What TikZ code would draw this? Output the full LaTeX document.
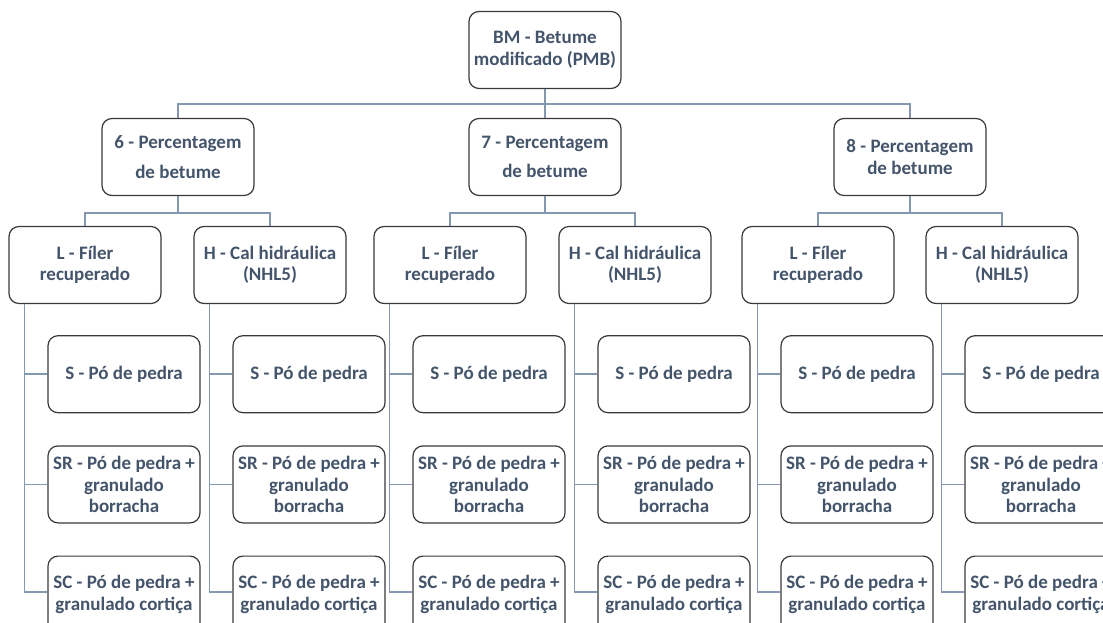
\documentclass[tikz,border=0pt]{standalone}
\usepackage{fontspec}
\setmainfont{Carlito}
\usetikzlibrary{positioning, calc}
\definecolor{textslate}{HTML}{44546A}
\definecolor{linkgrey}{HTML}{8497B0}
\definecolor{boxedge}{HTML}{3A3A3A}
\tikzset{
  box/.style={draw=boxedge, line width=1.2pt, rounded corners=10pt, fill=white,
    minimum width=152pt, minimum height=77pt, inner sep=0pt, align=center,
    text=textslate, font=\fontsize{19}{21.5}\selectfont\bfseries},
  link/.style={draw=linkgrey, line width=1.8pt},
}
\begin{document}
\begin{tikzpicture}[x=1pt, y=-1pt]
  \clip (0,0) rectangle (1103,623);
  \fill[white] (0,0) rectangle (1103,623);

  % Root
  \node[box] (bm) at (545,50) {BM - Betume\\modificado (PMB)};

  % Bitumen content
  \foreach \pc/\xx/\gap in {6/178/8pt, 7/545/8pt, 8/910/0pt} {
    \node[box] (p\pc) at (\xx,157) {\pc{} - Percentagem\\[\gap]de betume};
    \draw[link] (bm.south) -- ++(0,15) -| (p\pc.north);
  }

  % Filler type and mixes
  \foreach \pc/\xl/\xh in {6/85/270, 7/450/635, 8/818/1002} {
    \node[box] (l\pc) at (\xl,265) {L - Fíler\\recuperado};
    \node[box] (h\pc) at (\xh,265) {H - Cal hidráulica\\(NHL5)};
    \draw[link] (p\pc.south) -- ++(0,17) -| (l\pc.north);
    \draw[link] (p\pc.south) -- ++(0,17) -| (h\pc.north);

    \foreach \fl in {l, h} {
      \node[box, below=31pt of \fl\pc, xshift=39pt] (s\fl\pc) {S - Pó de pedra};
      \node[box, below=32pt of s\fl\pc] (sr\fl\pc) {SR - Pó de pedra +\\granulado\\borracha};
      \node[box, below=32pt of sr\fl\pc] (sc\fl\pc) {SC - Pó de pedra +\\granulado cortiça};
      \draw[link] ([xshift=16pt]\fl\pc.south west) |- (s\fl\pc.west);
      \draw[link] ([xshift=16pt]\fl\pc.south west) |- (sr\fl\pc.west);
      \draw[link] ([xshift=16pt]\fl\pc.south west) |- ([yshift=3pt]sc\fl\pc.west);
    }
  }
\end{tikzpicture}
\end{document}
